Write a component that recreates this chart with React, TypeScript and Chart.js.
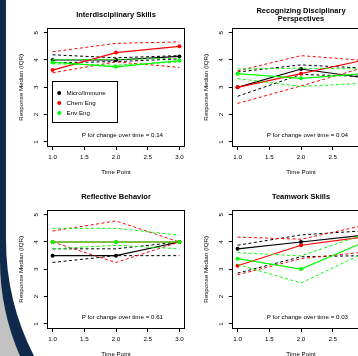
import React, { useEffect, useRef } from "react";
import { Chart, registerables } from "chart.js";

Chart.register(...registerables);

// ---------- data ----------
const timePoints = [1, 2, 3];
const xTickValues = [1, 1.5, 2, 2.5, 3];
const yTickValues = [1, 2, 3, 4, 5];
const groupNames = ["Micro/Immune", "Chem Eng", "Env Eng"];
const groupColors = ["#000000", "#ff0000", "#00ff00"];
const panelTitles = [
  ["Interdisciplinary Skills"],
  ["Recognizing Disciplinary", "Perspectives"],
  ["Reflective Behavior"],
  ["Teamwork Skills"],
];
const pValues = ["0.14", "0.04", "0.61", "0.03"];
const xAxisTitle = "Time Point";
const yAxisTitle = "Response Median (IQR)";

// rows: Micro/Immune, Chem Eng, Env Eng ; columns: time point 1, 2, 3
const interMedian = [[4.0, 4.0, 4.13], [3.63, 4.27, 4.5], [3.92, 3.75, 3.98]];
const interQ1 = [[3.9, 3.94, 4.04], [3.53, 3.93, 3.73], [3.86, 3.81, 3.93]];
const interQ3 = [[4.19, 4.08, 4.16], [4.3, 4.61, 4.66], [4.02, 4.02, 4.06]];

const recogMedian = [[3.0, 3.67, 3.35], [3.0, 3.5, 4.0], [3.5, 3.33, 3.5]];
const recogQ1 = [[2.67, 3.47, 3.4], [2.41, 3.05, 3.73], [3.32, 3.03, 3.15]];
const recogQ3 = [[3.56, 3.82, 3.7], [3.6, 4.16, 3.98], [3.67, 3.7, 3.67]];

const reflMedian = [[3.5, 3.5, 4.0], [4.0, 4.0, 4.0], [4.0, 4.0, 4.0]];
const reflQ1 = [[3.25, 3.5, 3.5], [4.0, 3.25, 4.0], [3.75, 3.88, 3.75]];
const reflQ3 = [[3.75, 3.75, 4.0], [4.4, 4.77, 4.0], [4.5, 4.5, 4.25]];

const teamMedian = [[3.75, 4.0, 4.25], [3.13, 3.88, 4.19], [3.39, 3.01, 4.0]];
const teamQ1 = [[2.86, 3.46, 3.5], [2.8, 3.39, 3.63], [3.18, 2.5, 3.6]];
const teamQ3 = [[3.88, 4.26, 4.41], [4.18, 4.1, 4.61], [3.61, 3.49, 4.28]];

const panelMedians = [interMedian, recogMedian, reflMedian, teamMedian];
const panelQ1 = [interQ1, recogQ1, reflQ1, teamQ1];
const panelQ3 = [interQ3, recogQ3, reflQ3, teamQ3];

// annotation anchors (data coordinates)
const pTextAnchor = [2.1, 1.25];
const legendAnchor = [1.0, 3.22];

// ---------- styles ----------
const FONT = "'Liberation Sans', Arial, Helvetica, sans-serif";
const TEXT = "#000";
const CW = 190;
const CH = 182;
const panelPos = [
  { left: 0, top: 0 },
  { left: 185, top: 0 },
  { left: 0, top: 182 },
  { left: 185, top: 182 },
];

function align(p: number) {
  return Math.round(p - 0.5) + 0.5;
}

const framePlugin = {
  id: "frame",
  afterDraw(chart: any, _args: any, opts: any) {
    const { ctx, chartArea: a, scales } = chart;
    ctx.save();
    ctx.strokeStyle = "#000";
    ctx.lineWidth = 1;
    const l = align(a.left), t = align(a.top), r = align(a.right), b = align(a.bottom);
    ctx.strokeRect(l, t, r - l, b - t);

    ctx.fillStyle = TEXT;
    ctx.font = `6.2px ${FONT}`;
    ctx.textAlign = "center";
    ctx.textBaseline = "middle";
    ctx.fillText(
      `P for change over time = ${opts.p}`,
      scales.x.getPixelForValue(pTextAnchor[0]),
      scales.y.getPixelForValue(pTextAnchor[1])
    );

    if (opts.legend) {
      const lx = align(scales.x.getPixelForValue(legendAnchor[0]));
      const ly = align(scales.y.getPixelForValue(legendAnchor[1]));
      ctx.strokeRect(lx, ly, 65, 41);
      ctx.textAlign = "left";
      groupNames.forEach((name, i) => {
        const cy = ly + 11.5 + i * 10;
        ctx.beginPath();
        ctx.arc(lx + 6.7, cy, 2, 0, Math.PI * 2);
        ctx.fillStyle = groupColors[i];
        ctx.fill();
        ctx.fillStyle = TEXT;
        ctx.fillText(name, lx + 14, cy + 0.3);
      });
    }
    ctx.restore();
  },
};

function buildDatasets(i: number) {
  const med = panelMedians[i];
  const q1 = panelQ1[i];
  const q3 = panelQ3[i];
  const ds: any[] = [];
  groupNames.forEach((name, g) => {
    const order = groupNames.length - 1 - g;
    const color = groupColors[g];
    ds.push({
      label: name,
      data: timePoints.map((t, k) => ({ x: t, y: med[g][k] })),
      borderColor: color,
      backgroundColor: color,
      borderWidth: 1.2,
      pointRadius: 2,
      pointHoverRadius: 2,
      pointBorderWidth: 0,
      pointBackgroundColor: color,
      order,
    });
    [q1, q3].forEach((arr, k) => {
      ds.push({
        label: `${name} ${k === 0 ? "Q1" : "Q3"}`,
        data: timePoints.map((t, j) => ({ x: t, y: arr[g][j] })),
        borderColor: color,
        backgroundColor: color,
        borderWidth: 1,
        borderDash: [3, 2.5],
        pointRadius: 0,
        pointHoverRadius: 0,
        order,
      });
    });
  });
  return ds;
}

function Panel({ index }: { index: number }) {
  const ref = useRef<HTMLCanvasElement>(null);
  useEffect(() => {
    const lines = panelTitles[index].length;
    const titlePad = lines === 1 ? { top: 10.9, bottom: 9.15 } : { top: 6.6, bottom: 5.2 };
    const tickFont = { family: FONT, size: 6.2 };
    const chart = new Chart(ref.current as HTMLCanvasElement, {
      type: "line",
      data: { datasets: buildDatasets(index) },
      options: {
        responsive: false,
        animation: false,
        events: [],
        layout: { padding: { left: 0, right: 5.5, top: 0, bottom: 0 } },
        plugins: {
          legend: { display: false },
          tooltip: { enabled: false },
          title: {
            display: true,
            fullSize: false,
            text: panelTitles[index],
            color: TEXT,
            font: { family: FONT, size: 7.5, weight: "bold", lineHeight: 1.1 },
            padding: titlePad,
          },
          frame: { p: pValues[index], legend: index === 0 },
        } as any,
        scales: {
          x: {
            type: "linear",
            min: 0.92,
            max: 3.08,
            afterBuildTicks: (s: any) => {
              s.ticks = xTickValues.map((v) => ({ value: v }));
            },
            afterFit: (s: any) => {
              s.height = 35.7;
            },
            ticks: {
              callback: (v: any) => Number(v).toFixed(1),
              font: tickFont,
              color: TEXT,
              padding: 3.3,
              autoSkip: false,
              maxRotation: 0,
              minRotation: 0,
            },
            grid: { drawOnChartArea: false, drawTicks: true, tickLength: 3.7, color: "#000", lineWidth: 1 },
            border: { display: true, color: "#000", width: 1 },
            title: {
              display: true,
              text: xAxisTitle,
              color: TEXT,
              font: tickFont,
              padding: { top: 0, bottom: 6.3 },
            },
          },
          y: {
            type: "linear",
            min: 0.84,
            max: 5.16,
            afterBuildTicks: (s: any) => {
              s.ticks = yTickValues.map((v) => ({ value: v }));
            },
            afterFit: (s: any) => {
              s.width = 47.5;
            },
            ticks: {
              callback: (v: any) => String(v),
              font: tickFont,
              color: TEXT,
              padding: 5.8,
              crossAlign: "center",
              autoSkip: false,
              minRotation: 90,
              maxRotation: 90,
            },
            grid: { drawOnChartArea: false, drawTicks: true, tickLength: 3.7, color: "#000", lineWidth: 1 },
            border: { display: true, color: "#000", width: 1 },
            title: {
              display: true,
              text: yAxisTitle,
              color: TEXT,
              font: tickFont,
              padding: { top: 17.8, bottom: 0 },
            },
          },
        },
      } as any,
      plugins: [framePlugin as any],
    });
    return () => chart.destroy();
  }, [index]);
  const pos = panelPos[index];
  return (
    <canvas
      ref={ref}
      width={CW}
      height={CH}
      style={{ position: "absolute", left: pos.left, top: pos.top, width: CW, height: CH }}
    />
  );
}

export default function App() {
  return (
    <div
      style={{
        position: "fixed",
        left: 0,
        top: 0,
        width: 358,
        height: 356,
        overflow: "hidden",
        background: "#ffffff",
      }}
    >
      <svg width={358} height={356} style={{ position: "absolute", left: 0, top: 0 }}>
        <rect x={0} y={0} width={358} height={356} fill="#c2c2c2" />
        <path d="M0 0 L0 260 A240 240 0 0 0 20 356 L358 356 L358 0 Z" fill="#0f2a4a" />
        <path d="M6 0 L6 240 A254 254 0 0 0 34 356 L358 356 L358 0 Z" fill="#ffffff" />
      </svg>
      {panelTitles.map((_, i) => (
        <Panel key={i} index={i} />
      ))}
    </div>
  );
}
